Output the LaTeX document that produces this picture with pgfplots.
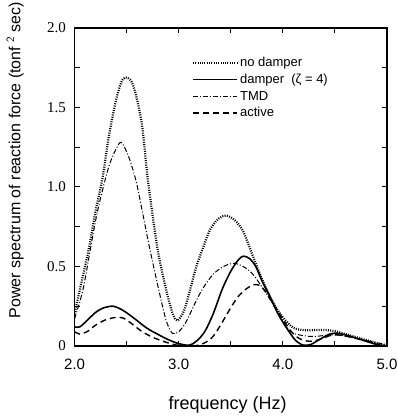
\documentclass[border=0pt]{standalone}
\usepackage{fontspec}
\setmainfont{Liberation Sans}
\newfontfamily\serifnum{Liberation Serif}
\usepackage{pgfplots}
\pgfplotsset{compat=1.18}
\begin{document}
\begin{tikzpicture}
\useasboundingbox (0,0) rectangle (397pt,420pt);
\begin{axis}[
  at={(74.5pt,74pt)}, anchor=south west,
  scale only axis, width=312.5pt, height=318pt,
  xmin=2, xmax=5, ymin=0, ymax=2,
  axis line style={line width=1.3pt},
  xtick={2,3,4,5}, xticklabels={2.0,3.0,4.0,5.0},
  minor xtick={2.5,3.5,4.5},
  ytick={0,0.5,1,1.5,2}, yticklabels={0,0.5,1.0,1.5,2.0},
  minor ytick={0.25,0.75,1.25,1.75},
  tick align=inside, major tick length=5pt, minor tick length=5pt,
  tick style={line width=1pt, black},
  /pgf/number format/assume math mode=true,
  xticklabel style={font=\fontsize{15}{15}\selectfont, yshift=-9pt},
  yticklabel style={font=\serifnum\fontsize{15}{15}\selectfont, xshift=-5pt},
  xlabel={frequency (Hz)},
  ylabel={Power spectrum of reaction force (tonf $^{\mathsf{2}}$ sec)},
  xlabel style={font=\fontsize{18}{18}\selectfont, at={(axis description cs:0.49,-0.186)}, anchor=center},
  ylabel style={font=\fontsize{16}{16}\selectfont, at={(axis description cs:-0.19,0.585)}, anchor=center},
  legend style={at={(axis description cs:0.375,0.915)}, anchor=north west, draw=none, fill=none,
    font=\fontsize{13}{13}\selectfont, row sep=2pt, inner sep=0pt},
  legend cell align=left,
  every axis plot post/.append style={legend image code/.code={\draw[##1] (0pt,0pt) -- (44pt,0pt);}},
]
\addplot[smooth, black, line width=2.2pt, dash pattern=on 1pt off 1.3pt] coordinates {
(2.0,0.20) (2.07,0.41) (2.14,0.62) (2.2,0.84) (2.27,1.06) (2.33,1.32) (2.4,1.55) (2.45,1.66) (2.49,1.69) (2.55,1.66) (2.6,1.55) (2.65,1.38) (2.7,1.07) (2.75,0.82) (2.8,0.6) (2.85,0.44) (2.9,0.3) (2.95,0.19) (2.99,0.16) (3.05,0.22) (3.1,0.33) (3.17,0.5) (3.23,0.61) (3.3,0.73) (3.38,0.80) (3.46,0.82) (3.54,0.79) (3.62,0.72) (3.71,0.57) (3.8,0.42) (3.9,0.28) (4.0,0.18) (4.1,0.115) (4.2,0.10) (4.3,0.10) (4.42,0.10) (4.52,0.09) (4.68,0.06) (4.84,0.03) (5.0,0.0)};
\addlegendentry{no damper}
\addplot[smooth, black, line width=1.6pt] coordinates {
(2.0,0.12) (2.05,0.12) (2.12,0.16) (2.2,0.21) (2.28,0.24) (2.37,0.25) (2.45,0.23) (2.52,0.2) (2.6,0.16) (2.7,0.11) (2.81,0.07) (2.9,0.04) (3.0,0.015) (3.1,0.005) (3.17,0.03) (3.25,0.09) (3.33,0.2) (3.42,0.36) (3.5,0.47) (3.57,0.54) (3.62,0.565) (3.68,0.55) (3.74,0.5) (3.8,0.41) (3.87,0.32) (3.94,0.22) (4.0,0.15) (4.07,0.08) (4.13,0.03) (4.2,0.005) (4.27,0.01) (4.35,0.04) (4.45,0.075) (4.52,0.08) (4.6,0.07) (4.7,0.05) (4.8,0.03) (4.9,0.01) (5.0,0.0)};
\addlegendentry{damper\ \ (ζ = 4)}
\addplot[smooth, black, line width=1pt, dash pattern=on 5pt off 2pt on 1pt off 2pt] coordinates {
(2.0,0.17) (2.08,0.35) (2.15,0.6) (2.2,0.78) (2.25,0.93) (2.33,1.13) (2.4,1.24) (2.45,1.28) (2.52,1.19) (2.59,1.04) (2.65,0.85) (2.72,0.62) (2.81,0.35) (2.88,0.16) (2.94,0.08) (3.0,0.09) (3.07,0.15) (3.15,0.26) (3.23,0.36) (3.33,0.45) (3.43,0.50) (3.53,0.52) (3.62,0.50) (3.7,0.46) (3.78,0.39) (3.88,0.29) (3.97,0.19) (4.05,0.11) (4.1,0.08) (4.2,0.065) (4.3,0.06) (4.5,0.07) (4.7,0.05) (4.9,0.02) (5.0,0.01)};
\addlegendentry{TMD}
\addplot[smooth, black, line width=1.4pt, dash pattern=on 6pt off 4pt] coordinates {
(2.0,0.09) (2.05,0.075) (2.12,0.09) (2.2,0.13) (2.3,0.165) (2.4,0.18) (2.47,0.175) (2.55,0.14) (2.65,0.09) (2.75,0.055) (2.85,0.03) (2.95,0.01) (3.05,0.0) (3.15,0.0) (3.25,0.02) (3.33,0.06) (3.41,0.14) (3.49,0.23) (3.57,0.31) (3.65,0.36) (3.72,0.385) (3.78,0.38) (3.85,0.33) (3.92,0.25) (4.0,0.17) (4.07,0.1) (4.15,0.05) (4.25,0.03) (4.35,0.04) (4.45,0.065) (4.52,0.07) (4.62,0.06) (4.75,0.04) (4.9,0.01) (5.0,0.0)};
\addlegendentry{active}
\end{axis}
\end{tikzpicture}
\end{document}
